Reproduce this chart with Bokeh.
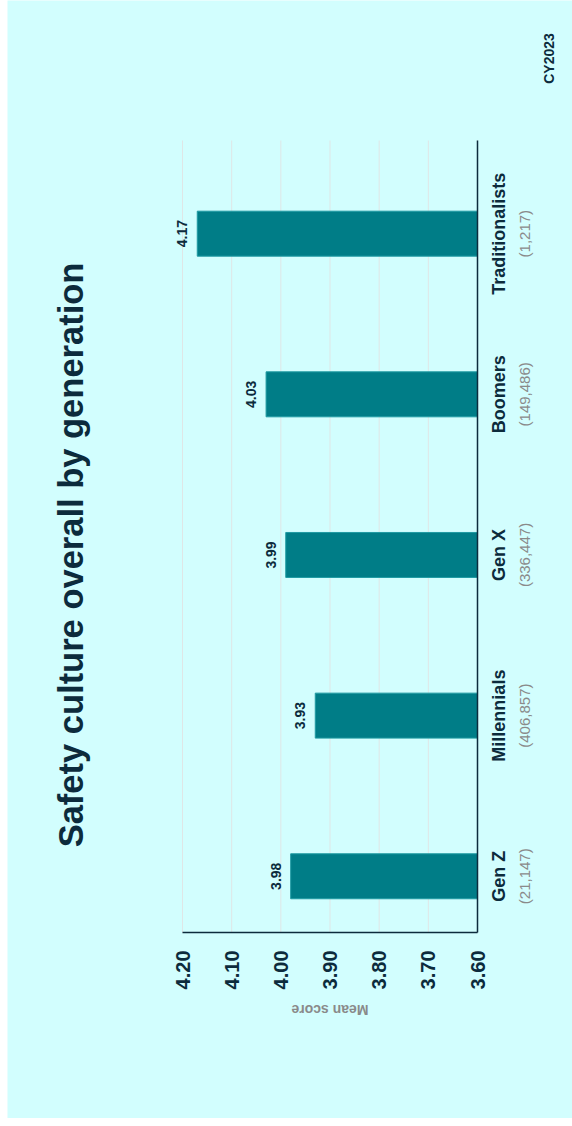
import math
from bokeh.plotting import figure
from bokeh.models import Range1d, ColumnDataSource, Spacer
from bokeh.layouts import row
from bokeh.core.properties import value
from bokeh.embed import file_html
from bokeh.resources import INLINE

# ---- data ----
categories = ["Gen Z", "Millennials", "Gen X", "Boomers", "Traditionalists"]
counts = ["(21,147)", "(406,857)", "(336,447)", "(149,486)", "(1,217)"]
scores = [3.98, 3.93, 3.99, 4.03, 4.17]
score_ticks = [3.60, 3.70, 3.80, 3.90, 4.00, 4.10, 4.20]
title_text = "Safety culture overall by generation"
period_text = "CY2023"
axis_title = "Mean score"

# ---- style ----
BG = "#d2fefe"
NAVY = "#0c2b3c"
TEAL = "#007d87"
GRAY = "#8a8a8a"
GRID = "#dfe6e6"
FONT = value("Liberation Sans")

# ---- layout geometry (pixels inside the figure) ----
W, H = 565, 1118
PL, PR, PT, PB = 175, 470, 140, 932      # plotting area edges
xs_hi, xs_lo = max(score_ticks), min(score_ticks)
KX = (PR - PL) / (xs_hi - xs_lo)          # px per score unit
pos = list(range(len(categories)))
y_lo, y_hi = -0.35, len(categories) - 1 + 0.58
KY = (PB - PT) / (y_hi - y_lo)            # px per category step

p = figure(width=W, height=H, title=None,
           x_range=Range1d(xs_hi + PL / KX, xs_lo - (W - PR) / KX),
           y_range=Range1d(y_lo - (H - PB) / KY, y_hi + PT / KY),
           x_axis_location=None, y_axis_location=None,
           output_backend="svg", toolbar_location=None,
           min_border=0, min_border_left=0, min_border_right=0,
           min_border_top=0, min_border_bottom=0,
           background_fill_color=BG, border_fill_color=BG,
           outline_line_color=None)
p.grid.visible = False

src = ColumnDataSource(dict(
    pos=pos, score=scores,
    label=[f"{v:.2f}" for v in scores],
    base=[xs_lo] * len(scores),
    name=categories, count=counts,
    name_x=[xs_lo] * len(scores),
))

# grid lines
n_t = len(score_ticks)
p.segment(x0=score_ticks, x1=score_ticks, y0=[y_lo] * n_t, y1=[y_hi] * n_t,
          line_color=GRID, line_width=1)

# bars
p.hbar(y="pos", height=0.28, left="base", right="score", source=src,
       fill_color=TEAL, line_color="#1f9ba3", line_width=1)

# axis lines
p.segment(x0=[xs_lo], x1=[xs_lo], y0=[y_lo], y1=[y_hi], line_color=NAVY, line_width=1.5)
p.segment(x0=[xs_hi], x1=[xs_lo], y0=[y_lo], y1=[y_lo], line_color=NAVY, line_width=1.5)

# value tick labels
p.text(x=score_ticks, y=[y_lo - 18 / KY] * n_t, text=[f"{t:.2f}" for t in score_ticks],
       angle=math.pi / 2, text_align="right", text_baseline="middle",
       text_font=FONT, text_font_size="20px", text_font_style="bold", text_color=NAVY)

# axis title (upside down, as in the rotated original)
p.text(x=[(xs_hi + xs_lo) / 2], y=[y_lo - 77 / KY], text=[axis_title],
       angle=math.pi, text_align="center", text_baseline="middle",
       text_font=FONT, text_font_size="14px", text_font_style="bold", text_color=GRAY)

# category names and counts
p.text(x="name_x", y="pos", text="name", source=src, x_offset=11,
       angle=math.pi / 2, text_align="center", text_baseline="top",
       text_font=FONT, text_font_size="18px", text_font_style="bold", text_color=NAVY)
p.text(x="name_x", y="pos", text="count", source=src, x_offset=38,
       angle=math.pi / 2, text_align="center", text_baseline="top",
       text_font=FONT, text_font_size="15px", text_color=GRAY)

# value labels
p.text(x="score", y="pos", text="label", source=src, x_offset=-15,
       angle=math.pi / 2, text_align="center", text_baseline="alphabetic",
       text_font=FONT, text_font_size="14px", text_font_style="bold", text_color=NAVY)

# title
p.text(x=[xs_hi], y=[(len(categories) - 1) / 2], text=[title_text], x_offset=-112,
       angle=math.pi / 2, text_align="center", text_baseline="middle",
       text_font=FONT, text_font_size="34.5px", text_font_style="bold", text_color=NAVY)

# period tag
p.text(x=[xs_lo], y=[y_hi + 82 / KY], text=[period_text], x_offset=71,
       angle=math.pi / 2, text_align="center", text_baseline="middle",
       text_font=FONT, text_font_size="14px", text_font_style="bold", text_color=NAVY)

layout = row(Spacer(width=7, height=H), p)

open("out.html", "w").write(file_html(layout, INLINE))
